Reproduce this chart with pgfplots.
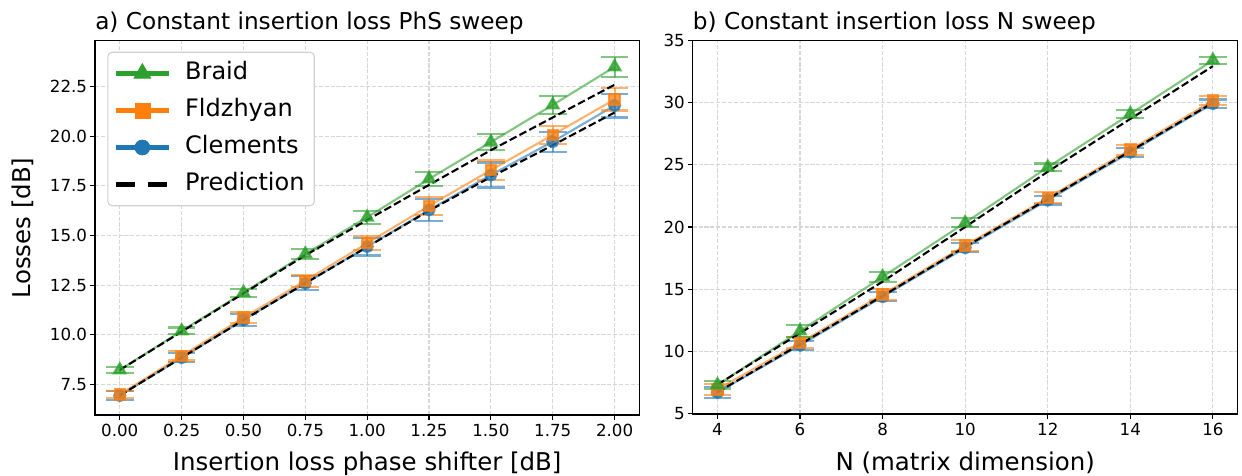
\documentclass[border=0pt]{standalone}
\usepackage{pgfplots}
\pgfplotsset{compat=1.18}
\usepackage{fontspec}
\setmainfont{DejaVu Sans}
\definecolor{tabblue}{RGB}{31,119,180}
\definecolor{taborange}{RGB}{255,127,14}
\definecolor{tabgreen}{RGB}{44,160,44}
\definecolor{gridgray}{RGB}{215,215,215}

\pgfplotstableread{
x y e
0.00 6.93 0.22
0.25 8.84 0.24
0.50 10.74 0.30
0.75 12.59 0.36
1.00 14.44 0.45
1.25 16.29 0.55
1.50 18.05 0.63
1.75 19.73 0.50
2.00 21.55 0.60
}\clemA
\pgfplotstableread{
x y e
0.00 6.99 0.18
0.25 8.93 0.23
0.50 10.86 0.27
0.75 12.72 0.30
1.00 14.61 0.35
1.25 16.49 0.45
1.50 18.30 0.48
1.75 20.07 0.46
2.00 21.86 0.56
}\fldA
\pgfplotstableread{
x y e
0.00 8.22 0.14
0.25 10.19 0.17
0.50 12.12 0.20
0.75 14.07 0.25
1.00 15.92 0.32
1.25 17.85 0.36
1.50 19.71 0.42
1.75 21.58 0.44
2.00 23.50 0.49
}\braA
\pgfplotstableread{
x y
0.00 8.22
0.25 10.15
0.50 12.08
0.75 14.00
1.00 15.78
1.25 17.55
1.50 19.30
1.75 20.95
2.00 22.60
}\predAu
\pgfplotstableread{
x y
0.00 6.93
0.25 8.84
0.50 10.74
0.75 12.59
1.00 14.42
1.25 16.25
1.50 17.95
1.75 19.55
2.00 21.20
}\predAl
\pgfplotstableread{
x y e
4 6.68 0.45
6 10.47 0.36
8 14.38 0.36
10 18.32 0.36
12 22.16 0.35
14 26.02 0.35
16 29.93 0.33
}\clemB
\pgfplotstableread{
x y e
4 6.92 0.44
6 10.68 0.44
8 14.57 0.45
10 18.51 0.44
12 22.35 0.43
14 26.23 0.40
16 30.17 0.38
}\fldB
\pgfplotstableread{
x y e
4 7.29 0.33
6 11.62 0.48
8 15.99 0.40
10 20.34 0.36
12 24.81 0.30
14 29.10 0.30
16 33.42 0.27
}\braB
\pgfplotstableread{
x y
4 7.30
6 11.45
8 15.60
10 20.00
12 24.45
14 28.70
16 32.95
}\predBu
\pgfplotstableread{
x y
4 6.70
6 10.55
8 14.45
10 18.40
12 22.25
14 26.10
16 30.00
}\predBl

\pgfplotsset{
  every axis title shift=0pt,
  every axis/.append style={
    scale only axis,
    axis line style={line width=0.8pt, black},
    tick pos=left, tick align=outside,
    major tick length=3.5pt,
    every tick/.style={line width=0.8pt, black},
    grid=major,
    major grid style={line width=0.8pt, gridgray, dash pattern=on 2.96pt off 1.28pt},
    /pgf/number format/assume math mode=true,
    ticklabel style={font=\fontsize{12}{14}\selectfont},
    xticklabel style={anchor=base, yshift=-12.2pt, inner sep=0pt},
    yticklabel style={anchor=east, inner sep=0pt, xshift=-2pt},
    title style={anchor=base west, inner sep=0pt, font=\fontsize{16.7}{19}\selectfont},
    xlabel style={anchor=base, inner sep=0pt, font=\fontsize{17.6}{20}\selectfont},
    ylabel style={anchor=base, inner sep=0pt, font=\fontsize{17.6}{20}\selectfont},
  },
  ser/.style={forget plot, color=#1, line width=1.5pt, draw opacity=0.6,
    mark options={solid, fill=#1, draw=#1, fill opacity=0.75, draw opacity=0.75},
    error bars/y dir=both, error bars/y explicit,
    error bars/error bar style={color=#1, line width=1.5pt, draw opacity=0.6},
    error bars/error mark options={rotate=90, color=#1, line width=1.5pt, mark size=10pt, draw opacity=0.6}},
  pred/.style={forget plot, black, line width=1.5pt, dash pattern=on 5.55pt off 2.4pt, mark=none},
}

\begin{document}
\begin{tikzpicture}
\useasboundingbox (-68.4pt,-43.9pt) rectangle (825.8pt,298.8pt);
\begin{axis}[
  at={(0pt,0pt)}, anchor=south west,
  width=391.9pt, height=269.5pt,
  xmin=-0.1, xmax=2.1, ymin=5.95, ymax=24.82,
  xtick={0,0.25,...,2.0},
  ytick={7.5,10,12.5,15,17.5,20,22.5},
  xticklabel style={/pgf/number format/.cd, fixed, fixed zerofill, precision=2},
  yticklabel style={/pgf/number format/.cd, fixed, fixed zerofill, precision=1},
  title={a) Constant insertion loss PhS sweep},
  title style={at={(axis description cs:0,1.0304)}},
  xlabel={Insertion loss phase shifter [dB]},
  xlabel style={at={(axis description cs:0.5,-0.147)}},
  ylabel={Losses [dB]},
  ylabel style={at={(axis description cs:-0.1194,0.5)}},
  legend style={at={(axis description cs:0.0227,0.9707)}, anchor=north west,
    draw=black!18, line width=0.8pt, rounded corners=3pt, fill=white,
    font=\fontsize{17.3}{20}\selectfont, row sep=4.3pt, column sep=7pt,
    inner xsep=4pt, inner ysep=4pt,
    nodes={text height=12.6pt, text depth=3.8pt, inner sep=3pt}},
  legend cell align=left,
  legend image code/.code={\draw[mark repeat=2,mark phase=2,#1] plot coordinates {(0pt,0pt) (19pt,0pt) (38pt,0pt)};},
]
\addplot[ser=tabblue, mark=*, mark size=4pt] table[x=x, y=y, y error=e] {\clemA};
\addplot[ser=taborange, mark=square*, mark size=3.7pt] table[x=x, y=y, y error=e] {\fldA};
\addplot[ser=tabgreen, mark=triangle*, mark size=4.9pt] table[x=x, y=y, y error=e] {\braA};
\addplot[pred] table[x=x, y=y] {\predAu};
\addplot[pred] table[x=x, y=y] {\predAl};
\addlegendimage{tabgreen, line width=3.6pt, mark=triangle*, mark size=7pt, mark options={solid, line width=0.5pt}}
\addlegendentry{Braid}
\addlegendimage{taborange, line width=3.6pt, mark=square*, mark size=5.4pt, mark options={solid, line width=0.5pt}}
\addlegendentry{Fldzhyan}
\addlegendimage{tabblue, line width=3.6pt, mark=*, mark size=5.4pt, mark options={solid, line width=0.5pt}}
\addlegendentry{Clements}
\addlegendimage{black, line width=3.6pt, dash pattern=on 14pt off 9pt}
\addlegendentry{Prediction}
\end{axis}

\begin{axis}[
  at={(430.3pt,0.72pt)}, anchor=south west,
  width=392.4pt, height=268.8pt,
  xmin=3.4, xmax=16.6, ymin=4.94, ymax=35.0,
  xtick={4,6,...,16},
  ytick={5,10,...,35},
  title={b) Constant insertion loss N sweep},
  title style={at={(axis description cs:0,1.0305)}},
  xlabel={N (matrix dimension)},
  xlabel style={at={(axis description cs:0.5,-0.1500)}},
]
\addplot[ser=tabblue, mark=*, mark size=4pt] table[x=x, y=y, y error=e] {\clemB};
\addplot[ser=taborange, mark=square*, mark size=3.7pt] table[x=x, y=y, y error=e] {\fldB};
\addplot[ser=tabgreen, mark=triangle*, mark size=4.9pt] table[x=x, y=y, y error=e] {\braB};
\addplot[pred] table[x=x, y=y] {\predBu};
\addplot[pred] table[x=x, y=y] {\predBl};
\end{axis}
\end{tikzpicture}
\end{document}
